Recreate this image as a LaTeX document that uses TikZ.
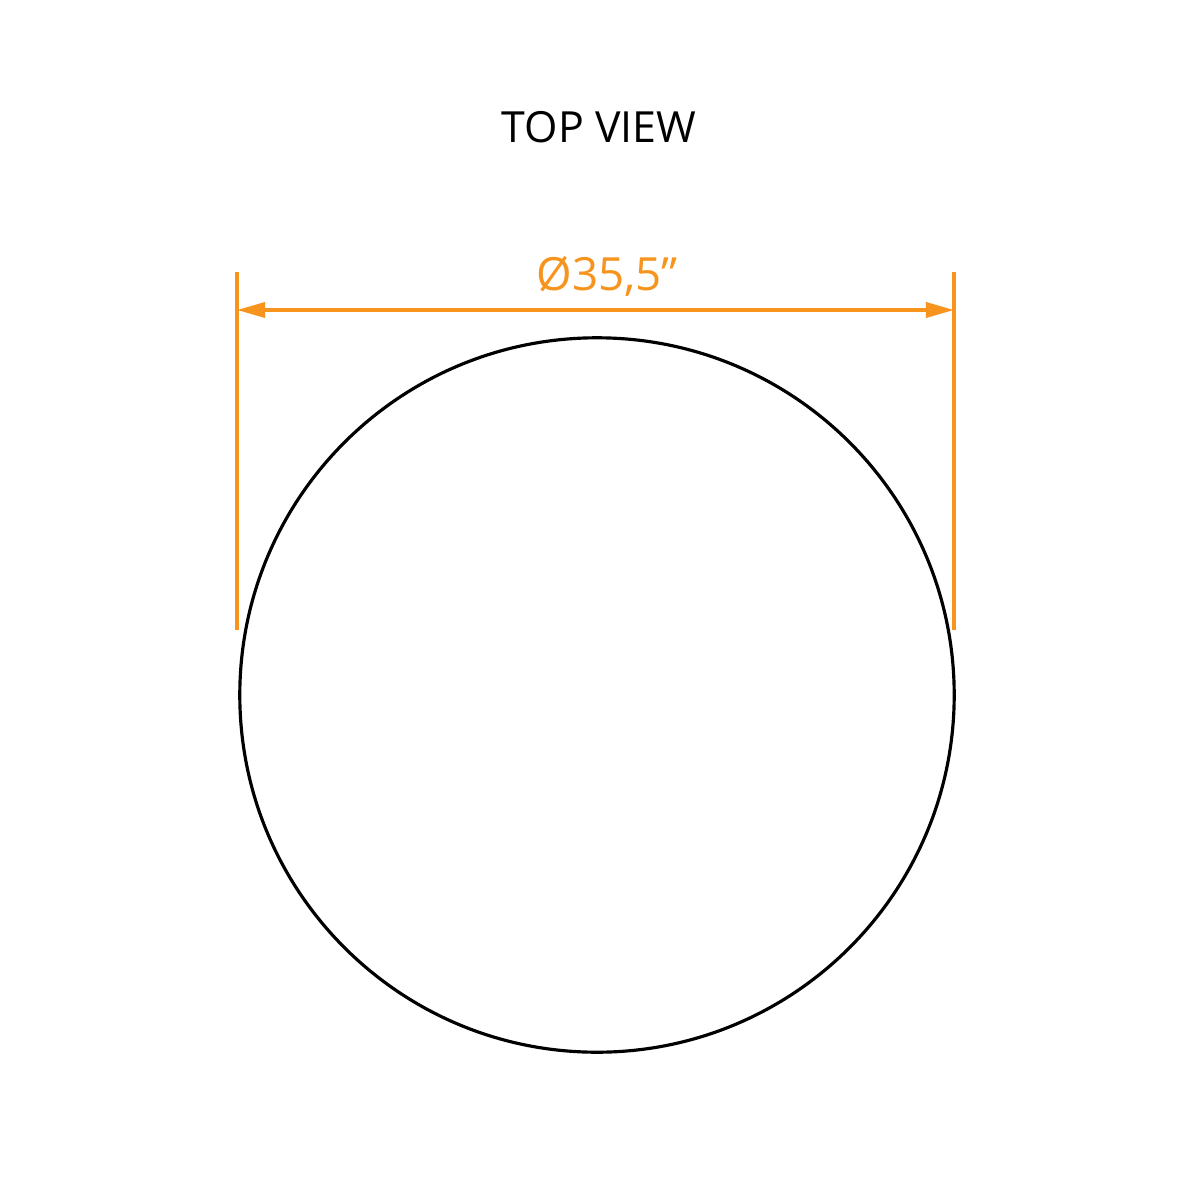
\documentclass[tikz,border=0pt]{standalone}
\usepackage{fontspec}
\setmainfont{Open Sans}
\usetikzlibrary{arrows.meta}
\definecolor{dimorange}{HTML}{F7941D}
\begin{document}
\begin{tikzpicture}[x=0.01cm,y=-0.01cm,
  dimline/.style={draw=dimorange,line width=1pt},
  dimtext/.style={text=dimorange,font=\fontsize{13pt}{15pt}\selectfont,anchor=base,inner sep=0pt},
  title/.style={text=black,font=\fontsize{12.2pt}{15pt}\selectfont,anchor=base,inner sep=0pt},
  outline/.style={draw=black,line width=0.9pt}]
\useasboundingbox[fill=white] (0,0) rectangle (1200,1200);
\node[title] (title) at (599,142) {TOP VIEW};
\node[outline,circle,minimum size=7.14cm,inner sep=0pt] (top) at (597,695) {};
\coordinate (l1) at (237,272);
\coordinate (l2) at (237,630);
\coordinate (r1) at (954,272);
\coordinate (r2) at (954,630);
\coordinate (al) at (237,310);
\coordinate (ar) at (954,310);
\draw[dimline] (l1) -- (l2);
\draw[dimline] (r1) -- (r2);
\draw[dimline,{Triangle[length=0.28cm,width=0.15cm]}-{Triangle[length=0.28cm,width=0.15cm]}] (al) -- (ar);
\node[dimtext] (dim) at (607,290) {Ø35,5”};
\end{tikzpicture}
\end{document}
